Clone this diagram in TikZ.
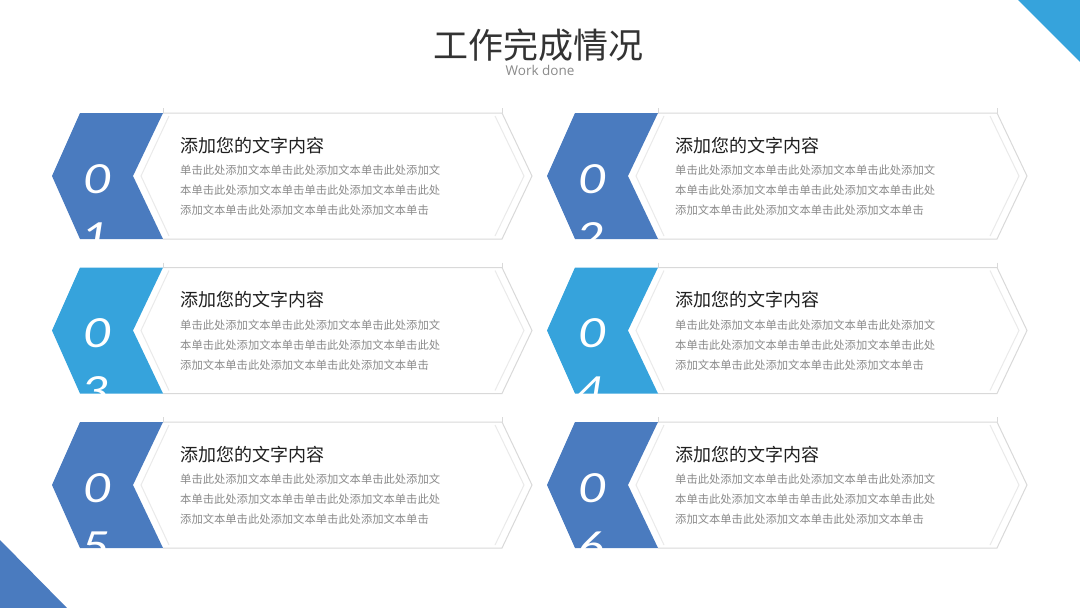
\documentclass[tikz,border=0pt]{standalone}
\usepackage{fontspec}
\newfontfamily\cjk{Noto Sans CJK SC}
\newfontfamily\numfont{Lato}
\newfontfamily\latinf{Open Sans}
\definecolor{dblue}{HTML}{4A7BBF}
\definecolor{lblue}{HTML}{36A3DC}
\definecolor{outl}{HTML}{D9D9D9}
\definecolor{inl}{HTML}{EAEAEA}
\definecolor{bodyc}{HTML}{8A8A8A}
\definecolor{headc}{HTML}{1F1F1F}
\definecolor{titlec}{HTML}{333333}
\tikzset{
  numtxt/.style={text=white, inner sep=0pt, xscale=1.25, font=\numfont\itshape\fontsize{40}{48}\selectfont},
  headtxt/.style={text=headc, anchor=base west, inner sep=0pt, font=\cjk\fontsize{18}{22}\selectfont},
  bodytxt/.style={text=bodyc, anchor=base west, inner sep=0pt, font=\cjk\fontsize{11.3}{14}\selectfont},
  titletxt/.style={text=titlec, anchor=base, inner sep=0pt, font=\cjk\fontsize{35}{42}\selectfont},
  subtxt/.style={text=bodyc, anchor=base, inner sep=0pt, font=\latinf\fontsize{13.5}{16}\selectfont},
  outline/.style={draw=outl, line width=1pt},
  inline/.style={draw=inl, line width=1pt}
}
\newcommand\mycard[5]{%
\begin{scope}[shift={(#2,#3)}]
  \fill[white] (163,-63) -- (502,-63) -- (532,0) -- (502,63) -- (163,63) -- (133,0) -- cycle;
  \path[outline] (163,-63) -- (502,-63) -- (532,0) -- (502,63) -- (163,63);
  \path[outline] (163,-68) -- (163,-63);
  \path[outline] (502,-68) -- (502,-63);
  \path[inline] (169,-60) -- (141,0) -- (169,60);
  \path[inline] (495,-60) -- (524,0) -- (495,60);
  \fill[#4] (80,-63) -- (163,-63) -- (133,0) -- (163,63) -- (80,63) -- (52,0) -- cycle;
  \begin{scope}
    \clip (80,-63) -- (163,-63) -- (133,0) -- (163,63) -- (80,63) -- (52,0) -- cycle;
    \node[numtxt] (nz#1) at (98,3) {0};
    \node[numtxt] (nd#1) at (96,61) {#5};
  \end{scope}
  \node[headtxt] (h#1) at (180,-24) {添加您的文字内容};
  \node[bodytxt] (la#1) at (180,-1.5) {单击此处添加文本单击此处添加文本单击此处添加文};
  \node[bodytxt] (lb#1) at (180,18.5) {本单击此处添加文本单击单击此处添加文本单击此处};
  \node[bodytxt] (lc#1) at (180,38.5) {添加文本单击此处添加文本单击此处添加文本单击};
\end{scope}}
\begin{document}
\begin{tikzpicture}[x=1pt,y=-1pt]
  \useasboundingbox (0,0) rectangle (1080,608);
  \fill[white] (0,0) rectangle (1080,608);
  \fill[lblue] (1018,0) -- (1080,0) -- (1080,62) -- cycle;
  \fill[dblue] (0,540) -- (0,608) -- (67,608) -- cycle;
  \node[titletxt] (title) at (538,58.5) {工作完成情况};
  \node[subtxt] (sub) at (540,75.5) {Work done};
  \mycard{a}{0}{176}{dblue}{1}
  \mycard{b}{495}{176}{dblue}{2}
  \mycard{c}{0}{330.5}{lblue}{3}
  \mycard{d}{495}{330.5}{lblue}{4}
  \mycard{e}{0}{485}{dblue}{5}
  \mycard{f}{495}{485}{dblue}{6}
\end{tikzpicture}
\end{document}
